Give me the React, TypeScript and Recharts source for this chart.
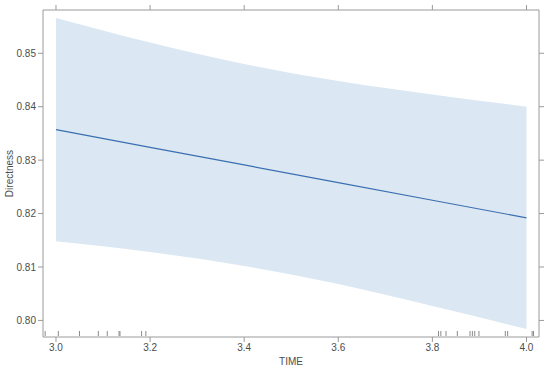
import { ComposedChart, Area, Line, Scatter, XAxis, YAxis } from 'recharts'

// effect of TIME on Directness
const TIMES = [3.0, 3.2, 3.4, 3.6, 3.8, 4.0]
const FIT = [0.8357, 0.8324, 0.8291, 0.8258, 0.8225, 0.8192]
const UPPER = [0.8566, 0.852, 0.848, 0.8448, 0.8423, 0.84]
const LOWER = [0.8148, 0.8128, 0.8102, 0.8068, 0.8027, 0.7984]

// rug of observed TIME values
const RUG = [
  2.977, 3.005, 3.05, 3.09, 3.109, 3.134, 3.136, 3.182, 3.191,
  3.813, 3.818, 3.829, 3.853, 3.88, 3.885, 3.89, 3.899, 3.955, 3.96, 4.012, 4.015,
]

const X_TICKS = [3.0, 3.2, 3.4, 3.6, 3.8, 4.0]
const Y_TICKS = [0.8, 0.81, 0.82, 0.83, 0.84, 0.85]

const X_DOMAIN: [number, number] = [2.9724, 4.0266]
const Y_DOMAIN: [number, number] = [0.7969, 0.8581]

const AXIS = '#9a9a9a'
const TEXT = '#4d4d4d'
const FONT = 'Liberation Sans, Arial, sans-serif'

const data = TIMES.map((time, i) => ({
  time,
  fit: FIT[i],
  band: [LOWER[i], UPPER[i]],
}))

const rugData = RUG.map((time) => ({ time, y: Y_DOMAIN[0] }))

const RugMark = (props: any) => (
  <line x1={props.cx} x2={props.cx} y1={props.cy - 1} y2={props.cy - 6} stroke="#8a8a8a" strokeWidth={1} />
)

export default function App() {
  const tick = { fill: TEXT, fontSize: 10, fontFamily: FONT }
  return (
    <div style={{ position: 'absolute', left: 0, top: 0, background: '#fff' }}>
      <ComposedChart width={550} height={371} margin={{ top: 9, right: 10, bottom: 0, left: 0 }}>
        <XAxis
          xAxisId="b"
          type="number"
          dataKey="time"
          domain={X_DOMAIN}
          ticks={X_TICKS}
          allowDataOverflow
          tickFormatter={(v) => v.toFixed(1)}
          stroke={AXIS}
          tick={tick}
          tickSize={5}
          height={34}
          label={{ value: 'TIME', position: 'insideBottom', offset: 6, fill: TEXT, fontSize: 10, fontFamily: FONT }}
        />
        <XAxis
          xAxisId="t"
          orientation="top"
          type="number"
          dataKey="time"
          domain={X_DOMAIN}
          ticks={X_TICKS}
          allowDataOverflow
          tickFormatter={() => ''}
          stroke={AXIS}
          tickSize={5}
          height={1}
        />
        <YAxis
          yAxisId="l"
          type="number"
          domain={Y_DOMAIN}
          ticks={Y_TICKS}
          allowDataOverflow
          tickFormatter={(v) => v.toFixed(2)}
          stroke={AXIS}
          tick={tick}
          tickSize={5}
          width={43}
          label={{ value: 'Directness', angle: -90, position: 'insideLeft', offset: 9, fill: TEXT, fontSize: 10, fontFamily: FONT, style: { textAnchor: 'middle' } }}
        />
        <YAxis
          yAxisId="r"
          orientation="right"
          type="number"
          domain={Y_DOMAIN}
          ticks={Y_TICKS}
          allowDataOverflow
          tickFormatter={() => ''}
          stroke={AXIS}
          tickSize={5}
          width={1}
        />
        <Area
          xAxisId="b"
          yAxisId="l"
          data={data}
          dataKey="band"
          type="monotone"
          fill="#dbe7f2"
          fillOpacity={1}
          stroke="none"
          isAnimationActive={false}
        />
        <Line
          xAxisId="b"
          yAxisId="l"
          data={data}
          dataKey="fit"
          type="linear"
          stroke="#3a6fb0"
          strokeWidth={1.2}
          dot={false}
          isAnimationActive={false}
        />
        <Scatter
          xAxisId="b"
          yAxisId="l"
          data={rugData}
          dataKey="y"
          shape={RugMark}
          isAnimationActive={false}
        />
      </ComposedChart>
    </div>
  )
}
